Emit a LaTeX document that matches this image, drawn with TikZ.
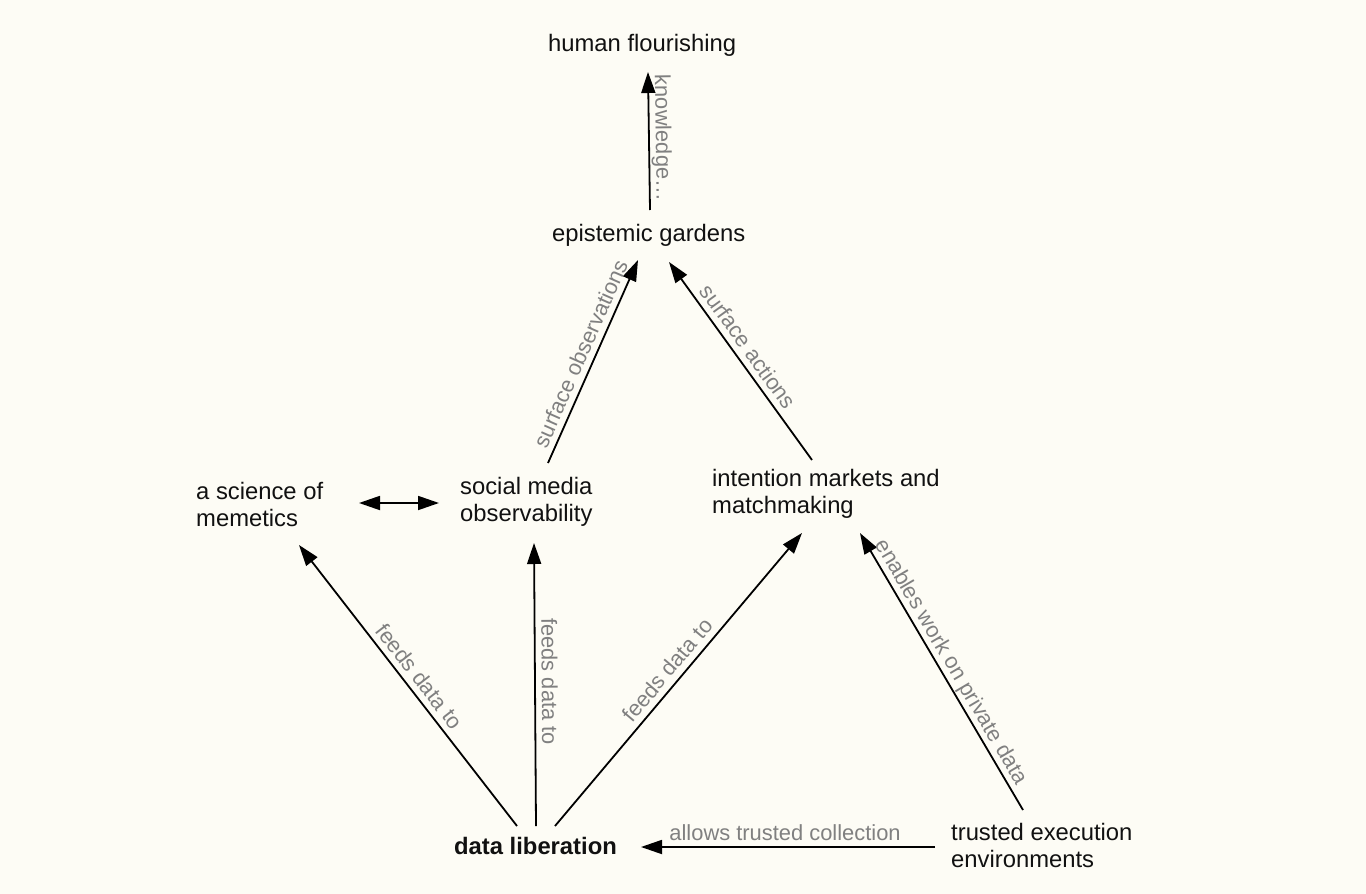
\documentclass[tikz,border=0pt]{standalone}
\usepackage{fontspec}
\setmainfont{Liberation Sans}
\usetikzlibrary{calc,arrows.meta}
\definecolor{bgcol}{RGB}{253,252,245}
\definecolor{lblgray}{RGB}{128,128,128}
\definecolor{txtcol}{RGB}{17,17,17}
\newcommand{\twoline}[2]{\begin{tabular}[t]{@{}l@{}}#1\\#2\end{tabular}}
\tikzset{
  concept/.style={inner sep=0pt, anchor=base west, text=txtcol,
    font=\fontsize{23.8}{27.5}\selectfont},
  conn/.style={line width=1.8pt, draw=black, -{Triangle[length=21pt,width=14pt]}},
  conn2/.style={line width=1.8pt, draw=black, {Triangle[length=21pt,width=14pt]}-{Triangle[length=21pt,width=14pt]}},
  elabel/.style={sloped, above, inner sep=1.5pt, text depth=4.5pt, text=lblgray,
    font=\fontsize{21.9}{25}\selectfont}
}
\begin{document}
\begin{tikzpicture}[x=1pt,y=-1pt]
\fill[bgcol] (0,0) rectangle (1366,894);
\useasboundingbox (0,0) rectangle (1366,894);

\node[concept] (hf) at (548,51) {human flourishing};
\node[concept] (eg) at (552,241) {epistemic gardens};
\node[concept] (sci) at (196,499) {\twoline{a science of}{memetics}};
\node[concept] (smo) at (460,494) {\twoline{social media}{observability}};
\node[concept] (im) at (712,486) {\twoline{intention markets and}{matchmaking}};
\node[concept, font=\fontsize{23.8}{27.5}\selectfont\bfseries] (dl) at (454,854) {data liberation};
\node[concept] (tee) at (951,840) {\twoline{trusted execution}{environments}};

\draw[conn] ($(eg.base west)+(98,-31)$) -- node[elabel, pos=0.52] {knowledge…} ($(hf.base west)+(100,21)$);
\draw[conn] ($(smo.base west)+(88,-31)$) -- node[elabel, pos=0.51] {surface observations} ($(eg.base west)+(86,19)$);
\draw[conn] ($(im.base west)+(100,-26)$) -- node[elabel, pos=0.53] {surface actions} ($(eg.base west)+(117,21)$);
\draw[conn2] ($(sci.base west)+(163,4)$) -- ($(smo.base west)+(-21,9)$);
\draw[conn] ($(dl.base west)+(63,-28)$) -- node[elabel, pos=0.5] {feeds data to} ($(sci.base west)+(103,46)$);
\draw[conn] ($(dl.base west)+(82,-28)$) -- node[elabel, pos=0.51] {feeds data to} ($(smo.base west)+(74,49)$);
\draw[conn] ($(dl.base west)+(101,-28)$) -- node[elabel, pos=0.5] {feeds data to} ($(im.base west)+(90,47)$);
\draw[conn] ($(tee.base west)+(72,-30)$) -- node[elabel, pos=0.51] {enables work on private data} ($(im.base west)+(148,47)$);
\draw[conn] ($(tee.base west)+(-16,7)$) -- node[elabel, pos=0.51] {allows trusted collection} ($(dl.base west)+(187,-7)$);
\end{tikzpicture}
\end{document}
